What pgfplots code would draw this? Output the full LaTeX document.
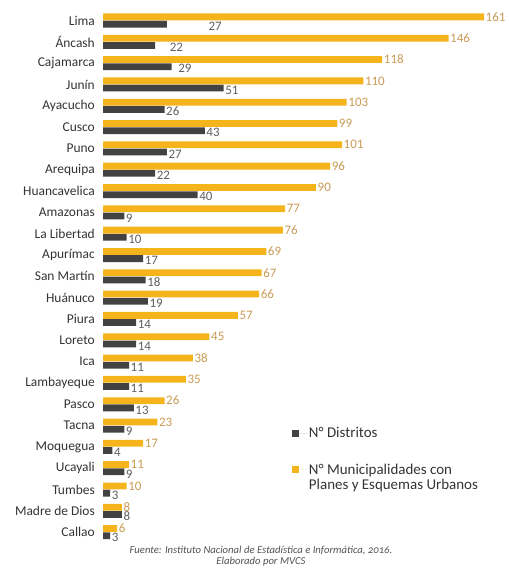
\documentclass[border=0pt]{standalone}
\usepackage{fontspec}
\setmainfont{Carlito}
\usepackage{pgfplots}
\pgfplotsset{compat=1.18}
\usepackage{pgfplotstable}
\definecolor{barorange}{HTML}{F5B41B}
\definecolor{bargray}{HTML}{424242}
\definecolor{lblorange}{HTML}{C99A55}
\definecolor{lblgray}{HTML}{5E5E5E}
\definecolor{txt}{HTML}{333333}

\pgfplotstableread{
y org gry dx
24 161 27 40
23 146 22 13
22 118 29 5
21 110 51 0
20 103 26 0
19 99 43 0
18 101 27 0
17 96 22 0
16 90 40 0
15 77 9 0
14 76 10 0
13 69 17 0
12 67 18 0
11 66 19 0
10 57 14 0
9 45 14 0
8 38 11 0
7 35 11 0
6 26 13 0
5 23 9 0
4 17 4 0
3 11 9 0
2 10 3 0
1 8 8 0
0 6 3 0
}\data

\begin{document}
\begin{tikzpicture}
\path (0,0) rectangle (509bp,-574bp);
\begin{axis}[
 at={(103bp,-9.84bp)}, anchor=north west,
 scale only axis, width=381bp, height=533bp,
 xmin=0, xmax=161, ymin=-0.5, ymax=24.5,
 axis line style={draw=none},
 xtick=\empty,
 ytick={0,...,24},
 yticklabels={Callao,Madre de Dios,Tumbes,Ucayali,Moquegua,Tacna,Pasco,Lambayeque,Ica,Loreto,Piura,Huánuco,San Martín,Apurímac,La Libertad,Amazonas,Huancavelica,Arequipa,Puno,Cusco,Ayacucho,Junín,Cajamarca,Áncash,Lima},
 major tick length=0pt,
 yticklabel style={font=\fontsize{13.5}{14}\selectfont, text=txt, inner sep=0pt, xshift=-8bp},
 /pgf/number format/assume math mode=true,
 clip=false,
 xbar, bar width=6.8bp,
 point meta=x,
 nodes near coords,
 nodes near coords style={font=\fontsize{13}{14}\selectfont, inner sep=1.5bp, anchor=west},
 legend image code/.code={\fill[#1] (0bp,-3.5bp) rectangle (7bp,3.5bp); \path (0bp,0bp) -- (15bp,0bp);},
 legend style={at={(axis cs:78.5,5.1)}, anchor=north west, draw=none, fill=none,
   font=\fontsize{15}{15.5}\selectfont, text=txt, row sep=20bp,
   nodes={inner sep=2bp}},
 legend cell align=left,
]
\addplot[fill=bargray, draw=none, bar shift=-3.6bp,
  visualization depends on={\thisrow{dx} \as \dxg},
  every node near coord/.append style={xshift=\dxg bp, yshift=-2bp, text=lblgray}]
  table[x=gry,y=y]{\data};
\addlegendentry{N° Distritos}
\addplot[fill=barorange, draw=none, bar shift=3.6bp,
  every node near coord/.append style={text=lblorange}]
  table[x=org,y=y]{\data};
\addlegendentry{\begin{tabular}[t]{@{}l@{}}N° Municipalidades con\\Planes y Esquemas Urbanos\end{tabular}}
\end{axis}
\node[font=\fontsize{10.7}{11.5}\selectfont\itshape, text=txt!85, align=center]
  at (261bp,-556bp) {Fuente: Instituto Nacional de Estadística e Informática, {\addfontfeatures{Numbers=OldStyle}2016}.\\Elaborado por MVCS};
\end{tikzpicture}
\end{document}
